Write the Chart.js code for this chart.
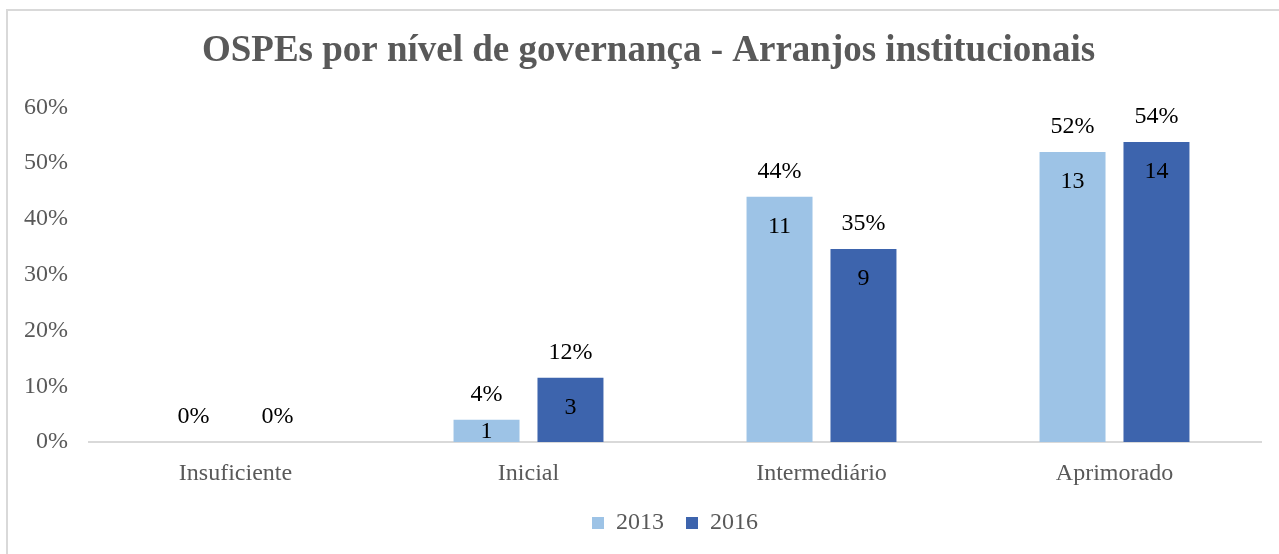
<!DOCTYPE html>
<html>
<head>
<meta charset="utf-8">
<script src="https://cdn.jsdelivr.net/npm/chart.js@4/dist/chart.umd.min.js"></script>
<style>
  html, body { margin: 0; padding: 0; background: #ffffff; }
  #wrap { position: relative; width: 1279px; height: 554px; }
</style>
</head>
<body>
<div id="wrap"><canvas id="govChart"></canvas></div>
<script>
var categories = ["Insuficiente", "Inicial", "Intermediário", "Aprimorado"]
var seriesNames = ["2013", "2016"]
var pct2013 = [0, 4, 44, 52]
var pct2016 = [0, 11.5, 34.6, 53.8]
var count2013 = [0, 1, 11, 13]
var count2016 = [0, 3, 9, 14]
var yTicks = [0, 10, 20, 30, 40, 50, 60]

var counts = [count2013, count2016]
var serif = "'Liberation Serif', 'Times New Roman', serif"

// frame round the chart, like the exported office chart
var framePlugin = {
  id: 'frame',
  afterLayout: function(chart){
    // title sits a bit right of the plot centre in the original
    if(chart.titleBlock){
      chart.titleBlock.left += 18
      chart.titleBlock.right += 18
    }
  },
  beforeDraw: function(chart){
    var ctx = chart.ctx
    ctx.save()
    ctx.fillStyle = '#ffffff'
    ctx.fillRect(0, 0, chart.width, chart.height)
    ctx.strokeStyle = '#d9d9d9'
    ctx.lineWidth = 2
    ctx.strokeRect(7, 10, chart.width + 20, chart.height + 20)
    ctx.restore()
  }
}

// percent above each bar, count inside near the top
var barLabels = {
  id: 'barLabels',
  afterDatasetsDraw: function(chart){
    var ctx = chart.ctx
    ctx.save()
    ctx.font = '24px ' + serif
    ctx.fillStyle = '#000000'
    ctx.textAlign = 'center'
    ctx.textBaseline = 'middle'
    chart.data.datasets.forEach(function(ds, di){
      var meta = chart.getDatasetMeta(di)
      meta.data.forEach(function(bar, i){
        var v = ds.data[i]
        ctx.fillText(Math.round(v) + '%', bar.x, bar.y - 25)
        var n = counts[di][i]
        if(n > 0){
          var cy = Math.min(bar.y + 30, (bar.y + bar.base) / 2 + 1)
          ctx.fillText(String(n), bar.x, cy)
        }
      })
    })
    ctx.restore()
  }
}

var ctx = document.getElementById("govChart").getContext('2d');
var myChart = new Chart(ctx, {
  type: 'bar',
  plugins: [framePlugin, barLabels],
  data: {
    labels: categories,
    datasets: [{
      label: seriesNames[0],
      data: pct2013,
      backgroundColor: '#9dc3e6',
      categoryPercentage: 0.573,
      barPercentage: 0.786
    }, {
      label: seriesNames[1],
      data: pct2016,
      backgroundColor: '#3d64ad',
      categoryPercentage: 0.573,
      barPercentage: 0.786
    }]
  },
  options: {
    responsive: true,
    maintainAspectRatio: false,
    animation: false,
    layout: {
      padding: { left: 0, right: 18, top: 0, bottom: 9 }
    },
    plugins: {
      title: {
        display: true,
        text: 'OSPEs por nível de governança - Arranjos institucionais',
        color: '#595959',
        font: { family: serif, size: 37, weight: 'bold', lineHeight: 1.2 },
        padding: { top: 29, bottom: 34 }
      },
      legend: {
        display: true,
        position: 'bottom',
        fullSize: false,
        labels: {
          color: '#595959',
          font: { family: serif, size: 24 },
          boxWidth: 12,
          boxHeight: 12,
          padding: 22
        }
      },
      tooltip: { enabled: false }
    },
    scales: {
      x: {
        grid: { display: false, drawTicks: false },
        border: { display: true, color: '#d9d9d9', width: 2 },
        ticks: {
          color: '#595959',
          font: { family: serif, size: 24 },
          padding: 17
        },
        afterFit: function(scale){
          scale.height = 47
        }
      },
      y: {
        min: 0,
        max: 60,
        grid: { display: false, drawTicks: false },
        border: { display: false },
        afterBuildTicks: function(scale){
          scale.ticks = yTicks.map(function(v){ return { value: v } })
        },
        ticks: {
          color: '#595959',
          font: { family: serif, size: 24 },
          padding: 21,
          callback: function(v){ return v + '%' }
        },
        afterFit: function(scale){
          scale.width = 89
        }
      }
    }
  }
});
</script>
</body>
</html>
